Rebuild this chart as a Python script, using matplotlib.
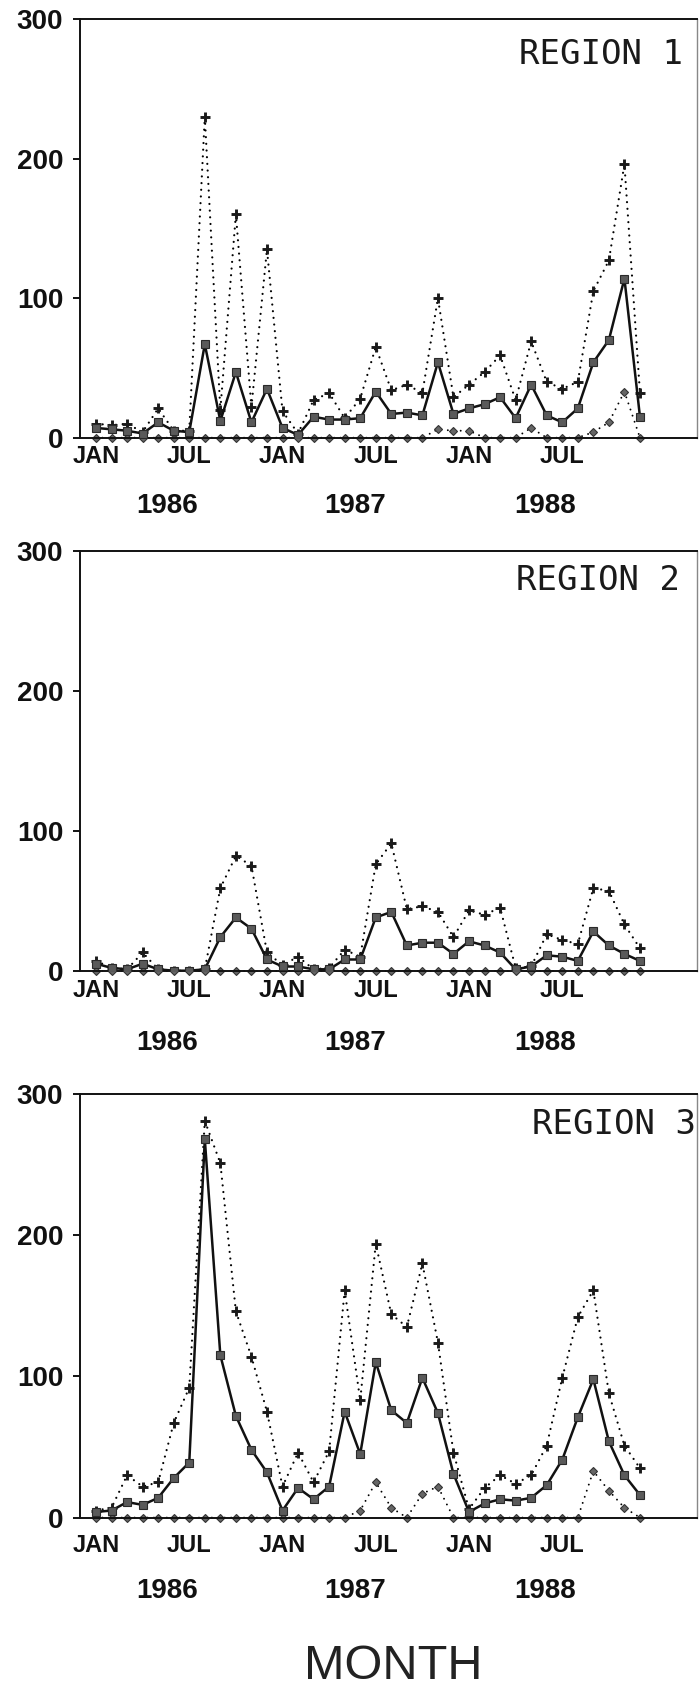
import matplotlib
matplotlib.use("Agg")
import matplotlib.pyplot as plt
from matplotlib import font_manager as fm

# ---------------- data ----------------
months = list(range(36))  # Jan 1986 .. Dec 1988
month_tick_pos = [0, 6, 12, 18, 24, 30]
month_tick_labels = ["JAN", "JUL", "JAN", "JUL", "JAN", "JUL"]
year_labels = ["1986", "1987", "1988"]
year_label_pos = [4.6, 16.7, 28.9]
y_ticks = [0, 100, 200, 300]
region_names = ["REGION 1", "REGION 2", "REGION 3"]

# Region 1
r1_total = [7, 6, 5, 3, 11, 5, 4, 67, 12, 47, 11, 35, 7, 2, 15, 13, 13, 14,
            33, 17, 18, 16, 54, 17, 21, 24, 29, 14, 38, 16, 11, 21, 54, 70, 114, 15]
r1_upper = [10, 9, 10, 4, 21, 5, 5, 230, 20, 160, 22, 135, 19, 3, 27, 32, 14, 28,
            65, 34, 38, 32, 100, 29, 38, 47, 59, 27, 69, 40, 35, 40, 105, 127, 196, 32]
r1_lower = [0, 0, 0, 0, 0, 0, 0, 0, 0, 0, 0, 0, 0, 0, 0, 0, 0, 0,
            0, 0, 0, 0, 6, 5, 5, 0, 0, 0, 7, 0, 0, 0, 4, 11, 33, 0]

# Region 2
r2_total = [5, 2, 1, 5, 1, 0, 0, 1, 24, 38, 30, 8, 3, 3, 1, 1, 8, 8,
            38, 42, 18, 20, 20, 12, 21, 18, 13, 1, 3, 11, 10, 7, 28, 18, 12, 7]
r2_upper = [7, 2, 1, 13, 1, 0, 0, 1, 59, 82, 75, 13, 4, 10, 1, 2, 15, 10,
            76, 91, 44, 46, 42, 24, 43, 40, 45, 2, 3, 26, 22, 19, 59, 57, 33, 16]
r2_lower = [0] * 36

# Region 3
r3_total = [4, 5, 11, 9, 14, 28, 39, 268, 115, 72, 48, 32, 5, 21, 13, 22, 75, 45,
            110, 76, 67, 99, 74, 31, 4, 10, 13, 12, 14, 23, 41, 71, 98, 54, 30, 16]
r3_upper = [5, 7, 30, 22, 25, 67, 92, 281, 251, 146, 114, 75, 22, 46, 25, 47, 161, 83,
            194, 144, 135, 180, 124, 46, 6, 21, 30, 24, 30, 51, 99, 142, 161, 88, 51, 35]
r3_lower = [0, 0, 0, 0, 0, 0, 0, 0, 0, 0, 0, 0, 0, 0, 0, 0, 0, 5,
            25, 7, 0, 17, 22, 0, 0, 0, 0, 0, 0, 0, 0, 0, 33, 19, 7, 0]

totals = [r1_total, r2_total, r3_total]
uppers = [r1_upper, r2_upper, r3_upper]
lowers = [r1_lower, r2_lower, r3_lower]

# ---------------- layout (pixels of a 700x1694 canvas) ----------------
W, H = 700, 1694
ax_left_px, ax_right_px = 80, 697
panel_px = [(19, 437.7), (550.7, 970.7), (1094, 1517.6)]   # (top, bottom)
region_text_px = [(519, 54), (516, 580), (531.5, 1124)]     # left x, center y
label_offsets_px = [(18.5, 68), (19.5, 72), (28, 73)]       # month / year label offsets

names = {f.name for f in fm.fontManager.ttflist}
bold_font = "Liberation Sans" if "Liberation Sans" in names else "DejaVu Sans"
mono_font = "DejaVu Sans Mono"
if "Liberation Sans Narrow" in names:
    month_font, month_size = "Liberation Sans Narrow", 41
else:
    month_font, month_size = bold_font, 35

PT = 0.72  # points per pixel at dpi 100

fig = plt.figure(figsize=(W / 100, H / 100), dpi=100)
fig.patch.set_facecolor("white")

for k in range(3):
    top, bot = panel_px[k]
    ax = fig.add_axes([ax_left_px / W, 1 - bot / H,
                       (ax_right_px - ax_left_px) / W, (bot - top) / H])
    ax.set_xlim(-1.03, 38.67)
    ax.set_ylim(0, 300)

    # lower dotted series with diamonds
    ax.plot(months, lowers[k], color="black", lw=1.4,
            linestyle=(0, (0.01, 3.3)), dash_capstyle="round",
            marker="D", ms=3.8, mfc="#666666", mec="#333333", mew=0.8, zorder=2,
            clip_on=False)
    # upper dotted series with plus markers
    ax.plot(months, uppers[k], color="black", lw=1.6,
            linestyle=(0, (0.01, 3.0)), dash_capstyle="round",
            marker="+", ms=7.5, mec="#1a1a1a", mew=2.1, zorder=3)
    # solid series with squares
    ax.plot(months, totals[k], color="#111111", lw=1.8,
            marker="s", ms=5.8, mfc="#5a5a5a", mec="#2a2a2a", mew=0.8, zorder=4)

    for s in ax.spines.values():
        s.set_linewidth(1.4)
        s.set_color("#111111")
    ax.spines["right"].set_linewidth(1.0)
    ax.spines["right"].set_color("#888888")

    ax.set_yticks(y_ticks)
    ax.set_yticklabels([str(v) for v in y_ticks])
    ax.tick_params(axis="y", direction="out", length=5, width=1.4, pad=7,
                   labelsize=20, colors="#111111")
    for lbl in ax.get_yticklabels():
        lbl.set_fontfamily(bold_font)
        lbl.set_fontweight("bold")

    moff, yoff = label_offsets_px[k]
    ax.set_xticks(month_tick_pos)
    ax.set_xticklabels(month_tick_labels)
    ax.tick_params(axis="x", length=0, pad=moff * PT, labelsize=17, colors="#111111")
    for lbl in ax.get_xticklabels():
        lbl.set_fontfamily(bold_font)
        lbl.set_fontweight("bold")
        lbl.set_va("center")

    for yl, xp in zip(year_labels, year_label_pos):
        ax.annotate(yl, xy=(xp, 0), xycoords=("data", "axes fraction"),
                    xytext=(0, -yoff * PT), textcoords="offset points",
                    ha="center", va="center", fontsize=20,
                    fontfamily=bold_font, fontweight="bold", color="#111111",
                    annotation_clip=False)

    tx, ty = region_text_px[k]
    fig.text(tx / W, 1 - ty / H, region_names[k], ha="left", va="center",
             fontsize=24.5, fontfamily=mono_font, color="#1a1a1a")

fig.text(393.5 / W, 1 - 1666 / H, "MONTH", ha="center", va="center",
         fontsize=month_size, fontfamily=month_font, color="#222222")

fig.savefig("out.png", dpi=100, facecolor="white")
